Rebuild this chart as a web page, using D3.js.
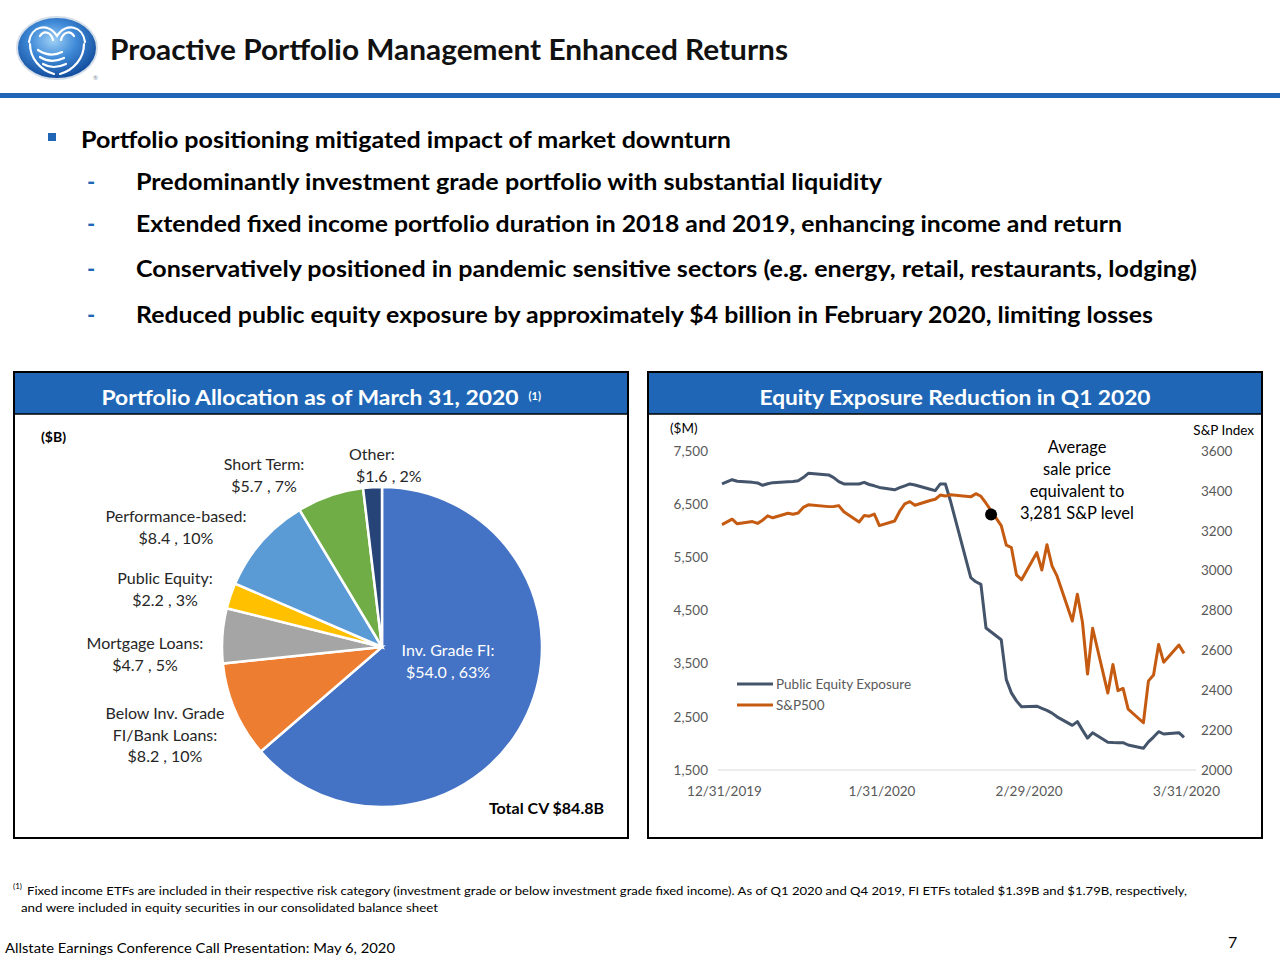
<!DOCTYPE html>
<html><head><meta charset="utf-8">
<script src="https://cdn.jsdelivr.net/npm/d3@7"></script>
<style>
body{margin:0;background:#fff}
svg{display:block}
text{font-family:Lato,"Open Sans","Liberation Sans",sans-serif}
</style>
</head><body>
<svg id="c" width="1280" height="960"></svg>
<script>
// ---------------- DATA ----------------
const titleText = "Proactive Portfolio Management Enhanced Returns";
const bulletMain = "Portfolio positioning mitigated impact of market downturn";
const subBullets = [
  "Predominantly investment grade portfolio with substantial liquidity",
  "Extended fixed income portfolio duration in 2018 and 2019, enhancing income and return",
  "Conservatively positioned in pandemic sensitive sectors (e.g. energy, retail, restaurants, lodging)",
  "Reduced public equity exposure by approximately $4 billion in February 2020, limiting losses"
];
const pieTitle = "Portfolio Allocation as of March 31, 2020";
const lineTitle = "Equity Exposure Reduction in Q1 2020";

const pieCategories = ["Inv. Grade FI", "Below Inv. Grade FI/Bank Loans", "Mortgage Loans", "Public Equity", "Performance-based", "Short Term", "Other"];
const pieValues = [54.0, 8.2, 4.7, 2.2, 8.4, 5.7, 1.6];
const piePercents = [63, 10, 5, 3, 10, 7, 2];
const pieLabelLines = [
  ["Inv. Grade FI:"],
  ["Below Inv. Grade", "FI/Bank Loans:"],
  ["Mortgage Loans:"],
  ["Public Equity:"],
  ["Performance-based:"],
  ["Short Term:"],
  ["Other:"]
];
const pieTotal = "Total CV $84.8B";

const dates = ["2019-12-31","2020-01-02","2020-01-03","2020-01-06","2020-01-07","2020-01-08","2020-01-09","2020-01-10","2020-01-13","2020-01-14","2020-01-15","2020-01-16","2020-01-17","2020-01-21","2020-01-22","2020-01-23","2020-01-24","2020-01-27","2020-01-28","2020-01-29","2020-01-30","2020-01-31","2020-02-03","2020-02-04","2020-02-05","2020-02-06","2020-02-07","2020-02-10","2020-02-11","2020-02-12","2020-02-13","2020-02-14","2020-02-18","2020-02-19","2020-02-20","2020-02-21","2020-02-24","2020-02-25","2020-02-26","2020-02-27","2020-02-28","2020-03-02","2020-03-03","2020-03-04","2020-03-05","2020-03-06","2020-03-09","2020-03-10","2020-03-11","2020-03-12","2020-03-13","2020-03-16","2020-03-17","2020-03-18","2020-03-19","2020-03-20","2020-03-23","2020-03-24","2020-03-25","2020-03-26","2020-03-27","2020-03-30","2020-03-31"];
const equityExposure = [6880,6960,6930,6910,6900,6855,6885,6905,6920,6925,6940,7000,7080,7050,7000,6925,6880,6880,6910,6870,6845,6815,6770,6810,6845,6880,6860,6780,6755,6880,6880,6560,5120,5040,4990,4170,3950,3200,2950,2800,2690,2700,2660,2620,2570,2500,2340,2410,2250,2100,2200,2020,2015,2014,2014,1970,1908,2030,2120,2220,2177,2202,2115];
const sp500 = [3231,3258,3235,3246,3237,3253,3275,3265,3288,3283,3289,3317,3330,3321,3322,3326,3295,3244,3276,3273,3284,3226,3249,3298,3335,3346,3328,3352,3358,3379,3374,3380,3370,3386,3373,3338,3226,3128,3116,2979,2954,3090,3003,3130,3024,2972,2747,2882,2741,2481,2711,2386,2529,2398,2409,2305,2237,2447,2476,2630,2541,2627,2585];
const seriesNames = ["Public Equity Exposure", "S&P500"];
const leftTicks = [1500, 2500, 3500, 4500, 5500, 6500, 7500];
const rightTicks = [2000, 2200, 2400, 2600, 2800, 3000, 3200, 3400, 3600];
const xTickDates = ["2019-12-31", "2020-01-31", "2020-02-29", "2020-03-31"];
const saleDate = "2020-02-22";
const saleLevel = 3281;
const annotationLines = ["Average", "sale price", "equivalent to", "3,281 S&P level"];

const footnote1 = "Fixed income ETFs are included in their respective risk category (investment grade or below investment grade fixed income). As of Q1 2020 and Q4 2019, FI ETFs totaled $1.39B and $1.79B, respectively,";
const footnote2 = "and were included in equity securities in our consolidated balance sheet";
const footerText = "Allstate Earnings Conference Call Presentation: May 6, 2020";
const pageNumber = "7";

// ---------------- STYLE / LAYOUT ----------------
const BLUE = "#1F67B6";
const pieColors = ["#4472C4", "#ED7D31", "#A5A5A5", "#FFC000", "#5B9BD5", "#70AD47", "#264478"];
// label anchor positions [x, firstBaseline, anchor, secondLineX]
const pieLabelPos = [
  [448, 656, "middle"],
  [165, 719, "middle"],
  [145, 649, "middle"],
  [165, 584, "middle"],
  [176, 522, "middle"],
  [264, 470, "middle"],
  [349, 460, "start", 356]
];

const svg = d3.select("#c");
const defs = svg.append("defs");

function fitText(sel, w) {
  if (w) sel.attr("textLength", w).attr("lengthAdjust", "spacingAndGlyphs");
  return sel;
}

// ---------- Logo ----------
const grad = defs.append("radialGradient").attr("id", "lg").attr("cx", "45%").attr("cy", "38%").attr("r", "65%");
grad.append("stop").attr("offset", "0%").attr("stop-color", "#9fd0f5");
grad.append("stop").attr("offset", "45%").attr("stop-color", "#3f8ad8");
grad.append("stop").attr("offset", "100%").attr("stop-color", "#0d4595");
const logo = svg.append("g");
logo.append("ellipse").attr("cx", 57).attr("cy", 48).attr("rx", 40).attr("ry", 31)
  .attr("fill", "url(#lg)").attr("stroke", "#d5dfea").attr("stroke-width", 2);
const handPaths = [
  "M29,42 C31,26 48,22 57,36 C66,22 83,26 85,42",
  "M30,44 C30,58 40,70 54,74",
  "M84,44 C84,58 74,70 60,74",
  "M40,36 C44,30 51,32 53,40",
  "M74,36 C70,30 63,32 61,40",
  "M38,50 Q50,58 62,52", "M40,57 Q51,64 64,58", "M43,64 Q53,70 66,64"
];
logo.selectAll("path.h").data(handPaths).join("path").attr("d", d => d)
  .attr("fill", "none").attr("stroke", "#fff").attr("stroke-width", 2.2).attr("stroke-linecap", "round");
logo.append("text").attr("x", 93).attr("y", 80).attr("font-size", 6).attr("fill", "#7a8da8").text("®");

// ---------- Title ----------
fitText(svg.append("text").attr("x", 110).attr("y", 60).attr("font-size", 28).attr("font-weight", 700)
  .attr("fill", "#111").text(titleText), 678);
svg.append("rect").attr("x", 0).attr("y", 93).attr("width", 1280).attr("height", 5).attr("fill", BLUE);

// ---------- Bullets ----------
svg.append("rect").attr("x", 48).attr("y", 133).attr("width", 8).attr("height", 8).attr("fill", BLUE);
fitText(svg.append("text").attr("x", 81).attr("y", 148).attr("font-size", 22).attr("font-weight", 700)
  .attr("fill", "#000").text(bulletMain), 650);
const subY = [190, 232, 277, 323];
const subW = [746, 986, 1061, 1017];
subBullets.forEach((s, i) => {
  svg.append("text").attr("x", 87).attr("y", subY[i]).attr("font-size", 22).attr("font-weight", 700).attr("fill", BLUE).text("-");
  fitText(svg.append("text").attr("x", 136).attr("y", subY[i]).attr("font-size", 22).attr("font-weight", 700)
    .attr("fill", "#000").text(s), subW[i]);
});

// ---------- Panels ----------
function panel(x0, x1, title, tw, sup) {
  svg.append("rect").attr("x", x0).attr("y", 372).attr("width", x1 - x0).attr("height", 466)
    .attr("fill", "#fff").attr("stroke", "#000").attr("stroke-width", 2);
  svg.append("rect").attr("x", x0 + 1).attr("y", 373).attr("width", x1 - x0 - 2).attr("height", 41).attr("fill", BLUE);
  svg.append("line").attr("x1", x0).attr("x2", x1).attr("y1", 414).attr("y2", 414).attr("stroke", "#000").attr("stroke-width", 1.5);
  const cx = (x0 + x1) / 2 + (sup ? -11 : 0);
  fitText(svg.append("text").attr("x", cx).attr("y", 405).attr("text-anchor", "middle")
    .attr("font-size", 20).attr("font-weight", 700).attr("fill", "#fff").text(title), tw);
  if (sup) svg.append("text").attr("x", cx + tw / 2 + 10).attr("y", 400).attr("font-size", 11)
    .attr("font-weight", 700).attr("fill", "#fff").text(sup);
}
panel(14, 628, pieTitle, 417, "(1)");
panel(648, 1262, lineTitle, 391, null);

// ---------- Pie ----------
svg.append("text").attr("x", 41).attr("y", 442).attr("font-size", 14).attr("font-weight", 700).attr("fill", "#000").text("($B)");
const pieG = svg.append("g").attr("transform", "translate(382,647)");
const pie = d3.pie().sort(null).value(d => d);
const arc = d3.arc().innerRadius(0).outerRadius(160);
pieG.selectAll("path").data(pie(pieValues)).join("path")
  .attr("d", arc).attr("fill", (d, i) => pieColors[i]).attr("stroke", "#fff").attr("stroke-width", 2.5);
pieLabelLines.forEach((lines, i) => {
  const [x, y, anchor, x2] = pieLabelPos[i];
  const all = lines.concat([`$${pieValues[i].toFixed(1)} , ${piePercents[i]}%`]);
  const t = svg.append("text").attr("font-size", 16).attr("text-anchor", anchor)
    .attr("fill", i === 0 ? "#fff" : "#262626");
  all.forEach((l, j) => {
    t.append("tspan").attr("x", (x2 && j > 0) ? x2 : x).attr("y", y + j * 21.5).text(l);
  });
});
svg.append("text").attr("x", 604).attr("y", 814).attr("text-anchor", "end").attr("font-size", 16)
  .attr("font-weight", 700).attr("fill", "#000").text(pieTotal);

// ---------- Line chart ----------
const parse = d3.utcParse("%Y-%m-%d");
const xs = d3.scaleUtc().domain([parse(dates[0]), parse(dates[dates.length - 1])]).range([722, 1184]);
const yL = d3.scaleLinear().domain([1500, 7500]).range([770, 451]);
const yR = d3.scaleLinear().domain([2000, 3600]).range([770, 451]);

svg.append("line").attr("x1", 718).attr("x2", 1196).attr("y1", yL(1500)).attr("y2", yL(1500))
  .attr("stroke", "#d9d9d9").attr("stroke-width", 1.2);

const axL = svg.append("g").attr("transform", "translate(708,0)")
  .call(d3.axisLeft(yL).tickValues(leftTicks).tickFormat(d3.format(",")).tickSize(0).tickPadding(0));
const axR = svg.append("g").attr("transform", "translate(1201,0)")
  .call(d3.axisRight(yR).tickValues(rightTicks).tickFormat(d3.format("d")).tickSize(0).tickPadding(0));
const axB = svg.append("g").attr("transform", "translate(2,786)")
  .call(d3.axisBottom(xs).tickValues(xTickDates.map(parse)).tickFormat(d3.utcFormat("%-m/%-d/%Y")).tickSize(0).tickPadding(0));
[axL, axR, axB].forEach(a => {
  a.select(".domain").remove();
  a.selectAll("text").attr("font-size", 13.5).attr("fill", "#595959").attr("font-family", "Lato,'Open Sans',sans-serif");
});
svg.append("text").attr("x", 670).attr("y", 433).attr("font-size", 13.5).attr("fill", "#000").text("($M)");
svg.append("text").attr("x", 1254).attr("y", 435).attr("text-anchor", "end").attr("font-size", 13.5).attr("fill", "#000").text("S&P Index");

const pts = dates.map((d, i) => ({ t: parse(d), e: equityExposure[i], s: sp500[i] }));
svg.append("path").datum(pts).attr("fill", "none").attr("stroke", "#44546A").attr("stroke-width", 3)
  .attr("stroke-linejoin", "round").attr("d", d3.line().x(d => xs(d.t)).y(d => yL(d.e)));
svg.append("path").datum(pts).attr("fill", "none").attr("stroke", "#C55A11").attr("stroke-width", 3)
  .attr("stroke-linejoin", "round").attr("d", d3.line().x(d => xs(d.t)).y(d => yR(d.s)));

svg.append("circle").attr("cx", xs(parse(saleDate))).attr("cy", yR(saleLevel)).attr("r", 6).attr("fill", "#000");
const ann = svg.append("text").attr("text-anchor", "middle").attr("font-size", 16.5).attr("fill", "#000");
annotationLines.forEach((l, j) => ann.append("tspan").attr("x", 1077).attr("y", 453 + j * 22).text(l));

// legend
const legColors = ["#44546A", "#C55A11"];
seriesNames.forEach((n, i) => {
  const y = 684 + i * 21;
  svg.append("line").attr("x1", 737).attr("x2", 773).attr("y1", y).attr("y2", y)
    .attr("stroke", legColors[i]).attr("stroke-width", 3);
  svg.append("text").attr("x", 776).attr("y", y + 5).attr("font-size", 13.5).attr("fill", "#595959").text(n);
});

// ---------- Footer ----------
svg.append("text").attr("x", 13).attr("y", 889).attr("font-size", 8).attr("fill", "#000").text("(1)");
fitText(svg.append("text").attr("x", 27).attr("y", 895).attr("font-size", 12).attr("fill", "#000").text(footnote1), 1160);
fitText(svg.append("text").attr("x", 21).attr("y", 912).attr("font-size", 12).attr("fill", "#000").text(footnote2), 417);
fitText(svg.append("text").attr("x", 5).attr("y", 953).attr("font-size", 14).attr("fill", "#000").text(footerText), 390);
svg.append("text").attr("x", 1228).attr("y", 948).attr("font-size", 16).attr("fill", "#000").text(pageNumber);
</script>
</body></html>
